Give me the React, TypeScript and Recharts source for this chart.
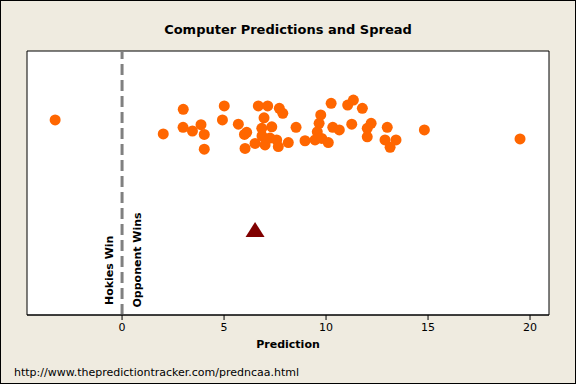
import React from 'react';
import { ScatterChart, Scatter, XAxis, YAxis, ReferenceLine, ReferenceArea } from 'recharts';

const predX = [-3.28, 2.02, 3.0, 2.99, 3.45, 3.87, 4.03, 4.03, 5.01, 4.92, 5.7, 6.0, 6.11, 6.03, 6.68, 7.14, 7.71, 7.88, 6.96, 6.85, 7.34, 6.86, 6.52, 7.01, 7.25, 7.58, 7.66, 8.15, 8.53, 8.97, 10.25, 11.06, 11.34, 11.78, 9.74, 9.66, 9.57, 10.33, 10.65, 11.26, 9.46, 9.79, 10.11, 12.21, 12.02, 12.02, 13.0, 12.89, 13.14, 13.43, 14.82, 19.51];
const predY = [7.39, 6.86, 7.79, 7.11, 6.97, 7.21, 6.84, 6.28, 7.92, 7.39, 7.23, 6.84, 6.92, 6.31, 7.92, 7.92, 7.83, 7.64, 7.47, 7.07, 7.13, 6.78, 6.5, 6.44, 6.7, 6.63, 6.38, 6.53, 7.11, 6.6, 8.02, 7.95, 8.14, 7.83, 7.58, 7.26, 6.94, 7.11, 7.01, 7.23, 6.63, 6.69, 6.53, 7.26, 7.07, 6.75, 7.11, 6.63, 6.35, 6.63, 7.01, 6.67];
const spreadX = [6.52];
const spreadY = [3.18];
const xTicks = [0, 5, 10, 15, 20];
const xDomain = [-4.66, 20.93];
const yDomain = [0, 10];

const predictions = predX.map((x, i) => ({ x, y: predY[i] }));
const spread = spreadX.map((x, i) => ({ x, y: spreadY[i] }));

const FONT = '"DejaVu Sans", sans-serif';

const Dot = (p: any) => <circle cx={p.cx} cy={p.cy} r={5.5} fill="#FF6600" />;
const Tri = (p: any) => (
  <polygon
    points={`${p.cx},${p.cy - 9} ${p.cx + 9.5},${p.cy + 6} ${p.cx - 9.5},${p.cy + 6}`}
    fill="#800000"
  />
);

const ZeroLabel = (props: any) => {
  const vb = props.viewBox || {};
  const x = vb.x;
  const style = { fontFamily: FONT, fontSize: 11, fontWeight: 'bold' as const, fill: '#000' };
  return (
    <g>
      <text x={x - 9} y={305} transform={`rotate(-90, ${x - 9}, 305)`} style={style}>
        Hokies Win
      </text>
      <text x={x + 19} y={307.5} transform={`rotate(-90, ${x + 19}, 307.5)`} style={style}>
        Opponent Wins
      </text>
    </g>
  );
};

export default function App() {
  return (
    <div
      style={{
        position: 'fixed',
        left: 0,
        top: 0,
        width: 576,
        height: 384,
        boxSizing: 'border-box',
        border: '1px solid #000',
        background: '#EFEBE0',
        overflow: 'hidden',
      }}
    >
      <div
        style={{
          position: 'absolute',
          left: -1,
          top: 21,
          width: 576,
          textAlign: 'center',
          fontFamily: FONT,
          fontSize: 13,
          fontWeight: 'bold',
          color: '#000',
          lineHeight: '16px',
        }}
      >
        Computer Predictions and Spread
      </div>
      <div style={{ position: 'absolute', left: -1, top: -1 }}>
        <ScatterChart width={576} height={384} margin={{ top: 51, right: 27, left: 27, bottom: 0 }}>
          <XAxis
            type="number"
            dataKey="x"
            domain={xDomain}
            allowDataOverflow
            ticks={xTicks}
            height={69}
            tickSize={5}
            tickMargin={3}
            axisLine={{ stroke: '#000' }}
            tickLine={{ stroke: '#000' }}
            tick={{ fill: '#000', fontSize: 11, fontFamily: FONT }}
            label={{
              value: 'Prediction',
              position: 'insideTop',
              offset: 25,
              style: { fontFamily: FONT, fontSize: 11, fontWeight: 'bold', fill: '#000' },
            }}
          />
          <YAxis type="number" dataKey="y" domain={yDomain} allowDataOverflow hide width={0} />
          <ReferenceArea
            x1={xDomain[0]}
            x2={xDomain[1]}
            y1={yDomain[0]}
            y2={yDomain[1]}
            fill="#FFFFFF"
            fillOpacity={1}
            stroke="#000"
            strokeWidth={1}
            ifOverflow="visible"
          />
          <ReferenceLine
            x={0}
            stroke="#808080"
            strokeWidth={3}
            strokeDasharray="11 5"
            label={<ZeroLabel />}
          />
          <Scatter data={predictions} shape={<Dot />} isAnimationActive={false} />
          <Scatter data={spread} shape={<Tri />} isAnimationActive={false} />
        </ScatterChart>
      </div>
      <div
        style={{
          position: 'absolute',
          left: 13,
          top: 365,
          fontFamily: FONT,
          fontSize: 11,
          color: '#000',
          lineHeight: '14px',
          whiteSpace: 'nowrap',
        }}
      >
        http://www.thepredictiontracker.com/predncaa.html
      </div>
    </div>
  );
}
